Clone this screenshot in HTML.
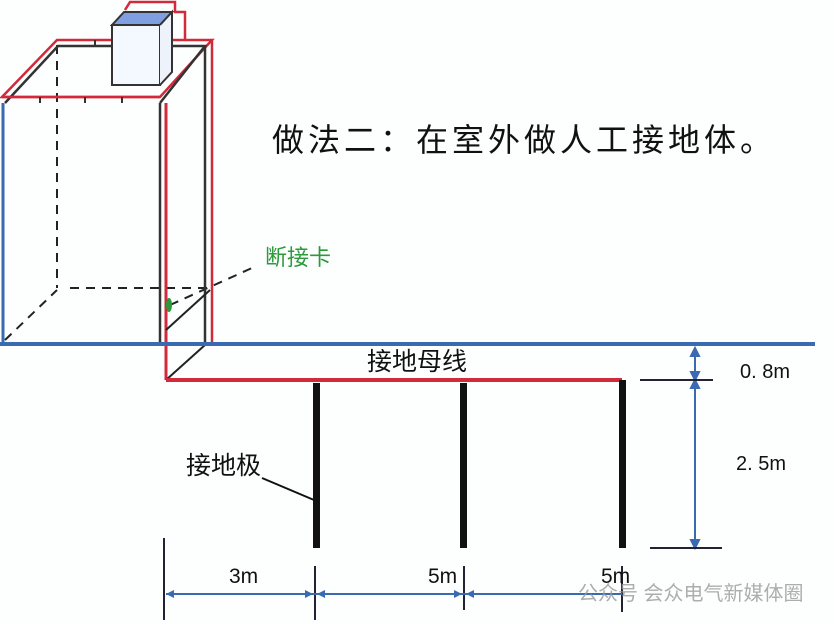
<!DOCTYPE html>
<html><head><meta charset="utf-8"><style>
html,body{margin:0;padding:0;background:#fff;}
svg{display:block;}
text{font-family:"Liberation Sans","Noto Sans CJK SC",sans-serif;}
</style></head><body>
<svg width="834" height="624" viewBox="0 0 834 624" xmlns="http://www.w3.org/2000/svg">
<rect width="834" height="624" fill="#fdfefe"/>
<g stroke="#222" stroke-width="2" stroke-dasharray="9,7" fill="none">
<line x1="57" y1="45" x2="57" y2="288"/>
<line x1="70" y1="288" x2="212" y2="288"/>
<line x1="5" y1="340" x2="57" y2="290"/>
<line x1="170" y1="305" x2="252" y2="268"/>
</g>
<g fill="none" stroke-width="2.5">
<path d="M2,97 L57,40 L212,40 L160,97 Z" stroke="#d22a3a"/>
<path d="M5,103 L58,46 L205,46 L160,103" stroke="#333"/>
<line x1="2" y1="97" x2="160" y2="97" stroke="#d22a3a"/>
</g>
<g stroke="#333" stroke-width="2">
<line x1="40" y1="97" x2="40" y2="103"/><line x1="85" y1="97" x2="85" y2="103"/><line x1="122" y1="97" x2="122" y2="103"/><line x1="95" y1="40" x2="95" y2="46"/>
</g>
<rect x="112" y="25" width="48" height="60" fill="#f4f8ff" stroke="#333" stroke-width="2"/>
<path d="M112,25 L124,12 L172,12 L160,25 Z" fill="#7f9fe0" stroke="#333" stroke-width="2"/>
<path d="M160,25 L172,12 L172,72 L160,85" fill="#eef2fa" stroke="#333" stroke-width="2"/>
<path d="M125,10 L130,2 L175,2 L175,12 L185,12 L185,40" fill="none" stroke="#d22a3a" stroke-width="2.5"/>
<line x1="3" y1="103" x2="3" y2="343" stroke="#3a6ab0" stroke-width="3"/>
<line x1="160" y1="103" x2="160" y2="343" stroke="#333" stroke-width="2.5"/>
<line x1="166" y1="103" x2="166" y2="380" stroke="#d22a3a" stroke-width="3"/>
<line x1="205" y1="46" x2="205" y2="345" stroke="#333" stroke-width="2.5"/>
<line x1="212" y1="40" x2="212" y2="345" stroke="#d22a3a" stroke-width="2.5"/>
<line x1="166" y1="380" x2="205" y2="345" stroke="#222" stroke-width="2"/>
<line x1="166" y1="330" x2="210" y2="290" stroke="#222" stroke-width="2"/>
<ellipse cx="169" cy="305" rx="3" ry="7" fill="#2a9a3a"/>
<line x1="0" y1="344" x2="815" y2="344" stroke="#3a6ab0" stroke-width="4"/>
<path d="M166,380 L622,380" stroke="#d22a3a" stroke-width="4"/>
<rect x="313" y="383" width="7" height="165" fill="#111"/>
<rect x="460" y="383" width="7" height="165" fill="#111"/>
<rect x="619" y="380" width="7" height="168" fill="#111"/>
<line x1="262" y1="478" x2="314" y2="500" stroke="#111" stroke-width="2"/>
<g stroke="#3a6ab0" stroke-width="2" fill="#3a6ab0">
<line x1="695" y1="348" x2="695" y2="545"/>
<path d="M691,356 L695,348 L699,356 Z M691,372 L695,380 L699,372 Z M691,388 L695,380 L699,388 Z M691,540 L695,548 L699,540 Z"/>
</g>
<line x1="640" y1="380" x2="713" y2="380" stroke="#223" stroke-width="2"/>
<line x1="650" y1="548" x2="722" y2="548" stroke="#223" stroke-width="2"/>
<g stroke="#223" stroke-width="2">
<line x1="164" y1="538" x2="164" y2="620"/>
<line x1="315" y1="566" x2="315" y2="620"/>
<line x1="464" y1="566" x2="464" y2="610"/>
<line x1="622" y1="566" x2="622" y2="612"/>
</g>
<line x1="166" y1="594" x2="622" y2="594" stroke="#3a6ab0" stroke-width="2"/>
<g fill="#3a6ab0">
<path d="M166,594 L174,590 L174,598 Z M313,594 L305,590 L305,598 Z M317,594 L325,590 L325,598 Z M462,594 L454,590 L454,598 Z M466,594 L474,590 L474,598 Z"/>
</g>
<text x="272" y="151" font-size="32" fill="#111" textLength="500">做法二：在室外做人工接地体。</text>
<text x="265" y="265" font-size="22" fill="#2a9a3a">断接卡</text>
<text x="367" y="370" font-size="25" fill="#111">接地母线</text>
<text x="186" y="474" font-size="25" fill="#111">接地极</text>
<text x="740" y="378" font-size="20" fill="#111">0. 8m</text>
<text x="736" y="470" font-size="20" fill="#111">2. 5m</text>
<text x="229" y="583" font-size="21" fill="#111">3m</text>
<text x="428" y="583" font-size="21" fill="#111">5m</text>
<text x="601" y="583" font-size="21" fill="#111">5m</text>
<text x="578" y="600" font-size="20" fill="#999" opacity="0.8">公众号 会众电气新媒体圈</text>
</svg>
</body></html>
